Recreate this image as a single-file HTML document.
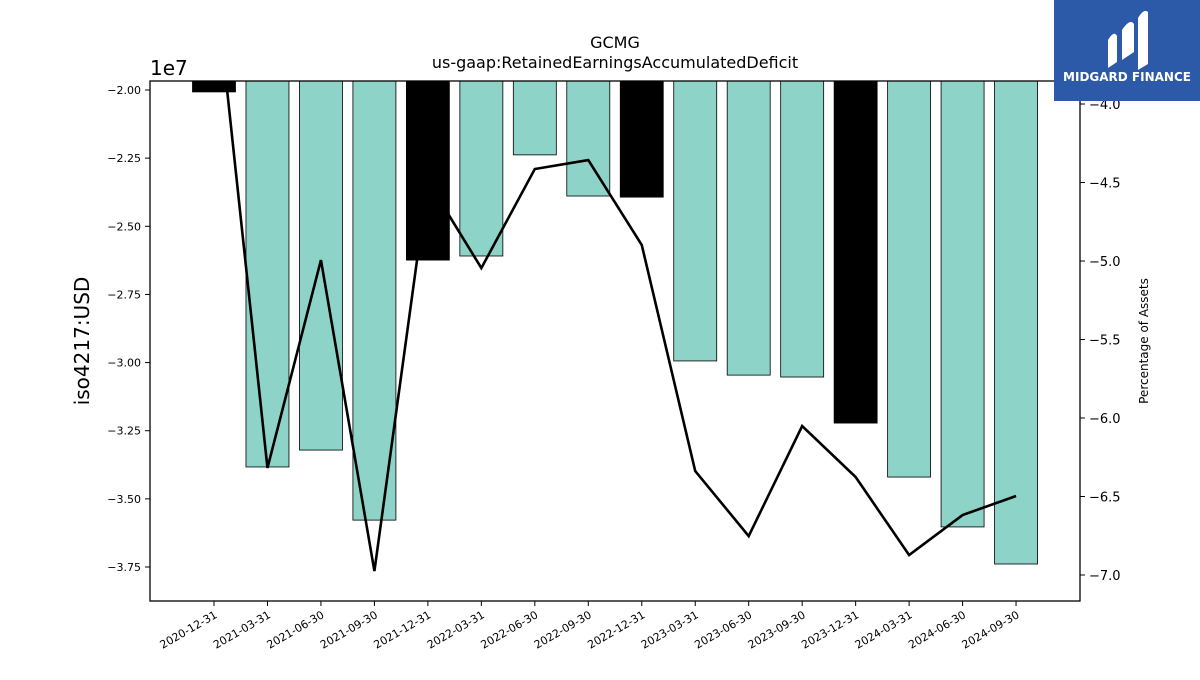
<!DOCTYPE html>
<html><head><meta charset="utf-8"><style>
body{margin:0;background:#fff;font-family:"Liberation Sans","DejaVu Sans",sans-serif}
svg text{font-family:"DejaVu Sans","Liberation Sans",sans-serif}
</style></head><body>
<svg id="chart" width="1200" height="675" xmlns="http://www.w3.org/2000/svg">
<text x="615" y="48" text-anchor="middle" font-size="16">GCMG</text>
<text x="615" y="68" text-anchor="middle" font-size="16">us-gaap:RetainedEarningsAccumulatedDeficit</text>
<text x="150" y="75" font-size="20">1e7</text>
<text transform="translate(89,341) rotate(-90)" text-anchor="middle" font-size="20">iso4217:USD</text>
<text transform="translate(1148,341) rotate(-90)" text-anchor="middle" font-size="12">Percentage of Assets</text>
<g id="bars"></g><g id="line"></g><g id="axes"></g>
<rect x="150" y="81" width="930" height="520" fill="none" stroke="#000" stroke-width="1.3"/>
<g>
<rect x="1054" y="0" width="146" height="101" fill="#2c5aa9"/>
<path d="M1108 68 L1108 40 Q1114 30 1117 36 L1117 62 Z M1122 60 L1122 30 Q1130 18 1134 24 L1134 52 Z M1138 70 L1138 18 Q1144 8 1148 12 L1148 64 Z" fill="#fff"/>
<text x="1127" y="81" text-anchor="middle" font-size="12" font-weight="bold" fill="#fff">MIDGARD FINANCE</text>
</g>
</svg>
<script>
const categories=["2020-12-31","2021-03-31","2021-06-30","2021-09-30","2021-12-31","2022-03-31","2022-06-30","2022-09-30","2022-12-31","2023-03-31","2023-06-30","2023-09-30","2023-12-31","2024-03-31","2024-06-30","2024-09-30"];
const barValues=[-2.007,-3.383,-3.321,-3.578,-2.624,-2.609,-2.238,-2.389,-2.393,-2.994,-3.046,-3.053,-3.222,-3.420,-3.603,-3.739];
const pctValues=[-3.13,-6.318,-4.994,-6.975,-4.49,-5.045,-4.414,-4.357,-4.898,-6.338,-6.752,-6.051,-6.376,-6.873,-6.618,-6.497];
const leftTicks=[-2.00,-2.25,-2.50,-2.75,-3.00,-3.25,-3.50,-3.75];
const rightTicks=[-4.0,-4.5,-5.0,-5.5,-6.0,-6.5,-7.0];
const NS="http://www.w3.org/2000/svg";
const L=150,R=1080,T=81,B=601;
const x=i=>214+i*53.47;
const yL=v=>90+(-2.0-v)*272.57;
const yR=v=>104+(-4.0-v)*157;
function mk(tag,attrs,parent){const e=document.createElementNS(NS,tag);for(const k in attrs)e.setAttribute(k,attrs[k]);parent.appendChild(e);return e;}
const gb=document.getElementById('bars'),gl=document.getElementById('line'),ga=document.getElementById('axes');
barValues.forEach((v,i)=>{
 const black=categories[i].endsWith('12-31');
 const r=mk('rect',{x:x(i)-21.5,y:T,width:43,height:Math.max(0,yL(v)-T),fill:black?'#000':'#8dd3c7',stroke:'#000','stroke-width':0.8},gb);
 
 
});
const clip=mk('clipPath',{id:'pc'},gl);mk('rect',{x:L,y:T,width:R-L,height:B-T},clip);
const pl=mk('polyline',{points:pctValues.map((v,i)=>x(i)+','+yR(v)).join(' '),fill:'none',stroke:'#000','stroke-width':2.6,'clip-path':'url(#pc)'},gl);


leftTicks.forEach(v=>{const y=yL(v);
 mk('line',{x1:L-5,x2:L,y1:y,y2:y,stroke:'#000'},ga);
 const t=mk('text',{x:L-9,y:y+4,'text-anchor':'end','font-size':11},ga);t.textContent=v.toFixed(2).replace('-','\u2212');
 
 
});
rightTicks.forEach(v=>{const y=yR(v);
 mk('line',{x1:R,x2:R+5,y1:y,y2:y,stroke:'#000'},ga);
 const t=mk('text',{x:R+9,y:y+5,'font-size':13},ga);t.textContent=v.toFixed(1).replace('-','\u2212');
 
 
});
categories.forEach((c,i)=>{const xx=x(i);
 mk('line',{x1:xx,x2:xx,y1:B,y2:B+5,stroke:'#000'},ga);
 const t=mk('text',{x:0,y:0,'text-anchor':'end','font-size':11,transform:`translate(${xx+4},${B+16}) rotate(-30)`},ga);t.textContent=c;
 
 
});
</script>
</body></html>
